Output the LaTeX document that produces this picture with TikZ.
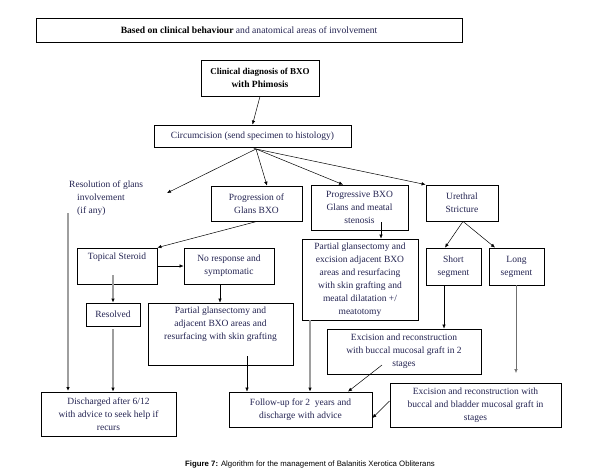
\documentclass[tikz,border=0pt]{standalone}
\usepackage{fontspec}
\setmainfont{Liberation Serif}
\newfontfamily\capfont{Liberation Sans}
\usetikzlibrary{arrows.meta}
\definecolor{txt}{rgb}{0.14,0.14,0.32}
\definecolor{gline}{rgb}{0.62,0.62,0.62}
\tikzset{
  box/.style={draw=black, line width=0.8pt, inner sep=0pt, align=center, text=txt,
    font=\fontsize{9.5}{13}\selectfont},
  arr/.style={draw=black, line width=0.5pt, -{Latex[length=4pt,width=3.5pt]}},
  garr/.style={draw=gline, line width=1.3pt, -{Latex[length=4pt,width=3.5pt,color=black,fill=black]}},
  plain/.style={inner sep=0pt, align=left, text=txt, font=\fontsize{9.5}{13}\selectfont}
}
\newcommand\bx[6]{\node[box, minimum width={#4pt-#2pt}, minimum height={#5pt-#3pt}] (#1) at ({(#2+#4)/2},{(#3+#5)/2}) {#6};}
\begin{document}
\begin{tikzpicture}[x=1pt,y=-1pt]
\useasboundingbox[fill=white] (0,0) rectangle (595,474);
\bx{top}{36}{18}{462}{42}{\fontsize{9.6}{11}\selectfont\textbf{\color{black}Based on clinical behaviour} and anatomical areas of involvement}
\bx{diag}{201}{60}{319}{96}{\fontsize{9}{12.5}\selectfont\bfseries\color{black}Clinical diagnosis of BXO\\ \bfseries\color{black}with Phimosis}
\bx{circ}{154}{125}{351}{147}{Circumcision (send specimen to histology)}
\coordinate (apex) at (256,149);
\bx{prog}{211}{186}{302}{221}{Progression of\\Glans BXO}
\bx{pbxo}{311}{185}{408}{230}{Progressive BXO\\Glans and meatal\\stenosis}
\bx{ure}{426}{185}{498}{221}{Urethral\\Stricture}
\node[plain, anchor=north west] (res) at (69,181) {Resolution of glans\\\hspace*{8pt}involvement\\\hspace*{8pt}(if any)};
\coordinate (resarr) at (167,193);
\bx{ts}{77}{248}{157}{284}{Topical Steroid\\[7pt]\mbox{}}
\bx{nr}{184}{248}{274}{284}{No response and\\symptomatic}
\bx{rsv}{86}{303}{140}{326}{Resolved}
\bx{pgl}{148}{303}{293}{365}{Partial glansectomy and\\adjacent BXO areas and\\resurfacing with skin grafting\\[8pt]\mbox{}}
\bx{pgr}{302}{239}{418}{320}{Partial glansectomy and\\excision adjacent BXO\\areas and resurfacing\\with skin grafting and\\meatal dilatation +/\\meatotomy}
\bx{ss}{426}{248}{481}{285}{Short\\segment}
\bx{ls}{489}{248}{544}{285}{Long\\segment}
\bx{exb}{327}{329}{481}{374}{Excision and reconstruction\\with buccal mucosal graft in 2\\stages}
\bx{dis}{41}{392}{176}{436}{Discharged after 6/12\\with advice to seek help if\\recurs}
\bx{fu}{229}{392}{372}{427}{Follow-up for 2~ years and\\discharge with advice}
\bx{exbb}{390}{383}{561}{427}{Excision and reconstruction with\\buccal and bladder mucosal graft in\\stages}
\node[inner sep=0pt, font=\capfont\fontsize{7.8}{9}\selectfont, text=black] (cap) at (310,464) {\textbf{Figure 7:} Algorithm for the management of Balanitis Xerotica Obliterans};
% connectors
\draw[arr] (diag.south) -- (circ.north);
\draw[line width=0.5pt] (circ.south) -- (apex);
\draw[arr] (apex) -- (resarr);
\draw[arr] (apex) -- (prog.north -| 267,0);
\draw[arr] (apex) -- (pbxo.north -| 343,0);
\draw[arr] (apex) -- (ure.north west);
\draw[garr] (68,213) -- (68,391) coordinate (disA);
\draw[arr] (prog.south -| 257,0) -- (ts.north east);
\draw[arr] (ts.east |- 0,266) -- (nr.west |- 0,266);
\draw[garr] (113,275) -- (rsv.north);
\draw[garr] (rsv.south |- 0,329) -- (dis.north -| 113,0);
\draw[arr] (nr.south -| 220,0) -- (pgl.north -| 220,0);
\draw[arr] (247,356) -- (fu.north -| 247,0);
\draw[arr] (381,222) -- (pgr.north -| 381,0);
\draw[garr] (pgr.south -| 310,0) -- (fu.north -| 310,0);
\draw[arr] (ure.south -| 463,0) -- (ss.north -| 445,0);
\draw[arr] (ure.south -| 463,0) -- (ls.north -| 495,0);
\draw[arr] (ss.south -| 444,0) -- (exb.north -| 444,0);
\draw[arr, draw=gline!70!black] (ls.south -| 516,0) -- (516,373);
\draw[arr] (382,365) -- (fu.north -| 348,0);
\draw[arr] (exbb.west |- 0,401) -- (fu.east |- 0,418);
\end{tikzpicture}
\end{document}
